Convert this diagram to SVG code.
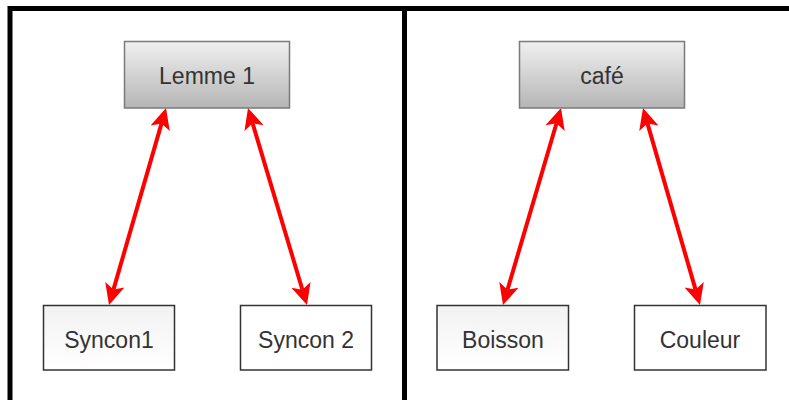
<svg xmlns="http://www.w3.org/2000/svg" width="789" height="400" viewBox="0 0 789 400">
  <style>
    .frame { fill: none; stroke: #000; stroke-width: 5; }
    .head { stroke: #7a7a7a; stroke-width: 1.5; fill: url(#gHead); }
    .leafG { stroke: #333; stroke-width: 1.5; fill: url(#gLeaf); }
    .leaf { stroke: #333; stroke-width: 1.5; fill: #fff; }
    .lbl { font-family: "Liberation Sans", Arial, sans-serif; font-size: 23px; fill: #333; text-anchor: middle; }
    .conn { stroke: #ff0000; stroke-width: 4; fill: none; marker-start: url(#ah); marker-end: url(#ah); }
  </style>
  <defs>
    <linearGradient id="gHead" x1="0" y1="0" x2="0" y2="1">
      <stop offset="0" stop-color="#f0f0f0"/>
      <stop offset="1" stop-color="#b5b5b5"/>
    </linearGradient>
    <linearGradient id="gLeaf" x1="0" y1="0" x2="0" y2="1">
      <stop offset="0" stop-color="#f2f2f2"/>
      <stop offset="1" stop-color="#ffffff"/>
    </linearGradient>
    <marker id="ah" markerUnits="userSpaceOnUse" markerWidth="24" markerHeight="24" viewBox="0 -11 24 22" refX="5" refY="0" orient="auto-start-reverse">
      <path d="M0,-10 L21,0 L0,10 L5,0 Z" fill="#ff0000"/>
    </marker>
  </defs>
  <rect width="789" height="400" fill="#fff"/>
  <g id="frame">
    <rect class="frame" x="10" y="8.5" width="800" height="420"/>
    <line class="frame" x1="404.5" y1="8.5" x2="404.5" y2="410"/>
  </g>
  <g id="connectors">
    <path class="conn" d="M161.55,123.4 L113.45,289.6"/>
    <path class="conn" d="M252.6,123.3 L302.4,289.7"/>
    <path class="conn" d="M556.5,123.3 L507.5,289.7"/>
    <path class="conn" d="M647.45,123.4 L695.55,289.6"/>
  </g>
  <g id="lemme1">
    <rect class="head" x="124.5" y="41.5" width="165" height="66.5"/>
    <text class="lbl" x="207" y="83.5">Lemme 1</text>
  </g>
  <g id="cafe">
    <rect class="head" x="519.5" y="41.5" width="165" height="66.5"/>
    <text class="lbl" x="602" y="83.5">café</text>
  </g>
  <g id="syncon1">
    <rect class="leafG" x="43.5" y="305.5" width="131" height="64.5"/>
    <text class="lbl" x="109" y="348">Syncon1</text>
  </g>
  <g id="syncon2">
    <rect class="leaf" x="240.5" y="305.5" width="131" height="64.5"/>
    <text class="lbl" x="306" y="348">Syncon 2</text>
  </g>
  <g id="boisson">
    <rect class="leafG" x="437" y="305.5" width="131.5" height="64.5"/>
    <text class="lbl" x="503" y="348">Boisson</text>
  </g>
  <g id="couleur">
    <rect class="leaf" x="634.5" y="305.5" width="131.5" height="64.5"/>
    <text class="lbl" x="700" y="348">Couleur</text>
  </g>
</svg>
